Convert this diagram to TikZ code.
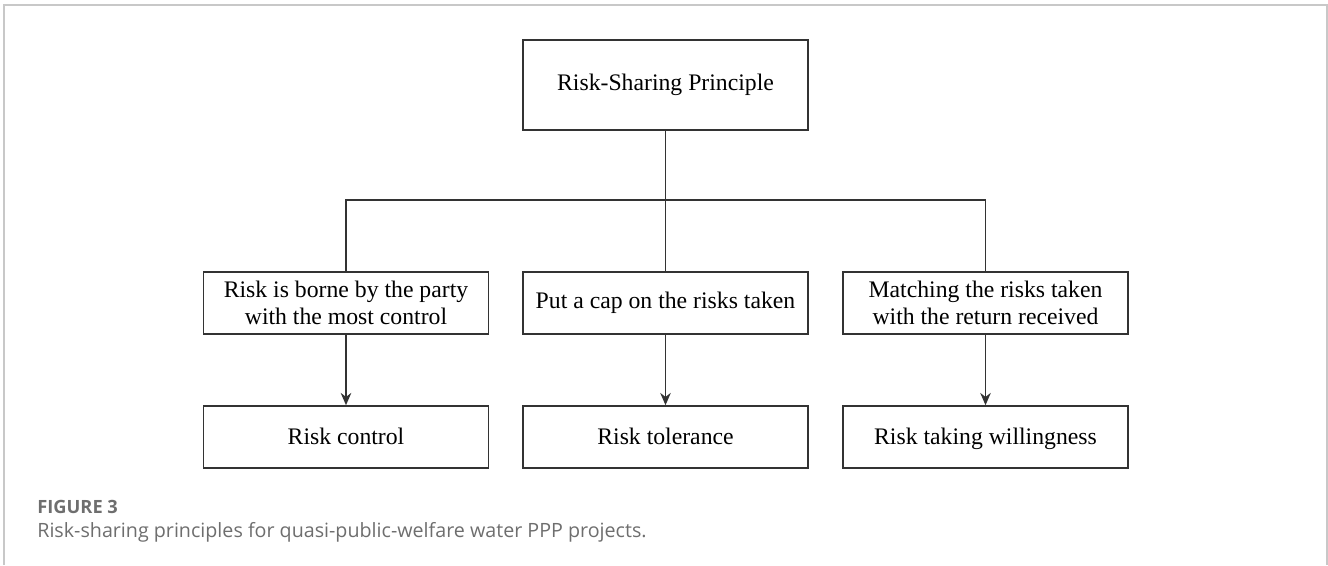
\documentclass[tikz,border=0pt]{standalone}
\usepackage{fontspec}
\setmainfont{Liberation Serif}
\newfontfamily\capfont{Open Sans}
\usepackage{xcolor}
\usetikzlibrary{arrows.meta}

\definecolor{framegray}{HTML}{C8C8C8}
\definecolor{capgray}{HTML}{6E6E6E}

\tikzset{
    box/.style={draw=black!80, line width=0.9pt, inner sep=0pt, minimum width=5.7cm,
        minimum height=1.24cm, align=center, font=\fontsize{13.5}{15.3}\selectfont},
    leaf/.style={box, text height=9.5pt, text depth=1.5pt},
    link/.style={draw=black!80, line width=0.9pt},
    arr/.style={link, -{Stealth[length=7pt, width=6pt]}}
}

\begin{document}
\begin{tikzpicture}[x=0.02cm, y=-0.02cm]

    % Page and frame
    \useasboundingbox (0,0) rectangle (1328,565);
    \draw[framegray, line width=1pt] (4,565) -- (4,5) -- (1327,5) -- (1327,565);

    % Boxes
    \node[box, minimum height=1.8cm] (top) at (665.5,85) {Risk-Sharing Principle};

    \node[box] (borne) at (346,303) {Risk is borne by the party\\with the most control};
    \node[box] (cap) at (665.5,303) {Put a cap on the risks taken};
    \node[box] (match) at (985.5,303) {Matching the risks taken\\with the return received};

    \node[leaf] (control) at (346,437) {Risk control};
    \node[leaf] (tolerance) at (665.5,437) {Risk tolerance};
    \node[leaf] (willing) at (985.5,437) {Risk taking willingness};

    % Tree lines
    \coordinate (split) at (665.5,200);
    \draw[link] (top.south) -- (split);
    \draw[link] (borne.north) -- (borne.north |- split) -- (match.north |- split) -- (match.north);
    \draw[link] (split) -- (cap.north);

    \draw[arr] (borne.south) -- (control.north);
    \draw[arr] (cap.south) -- (tolerance.north);
    \draw[arr] (match.south) -- (willing.north);

    % Caption
    \node[anchor=base west, inner sep=0pt, text=capgray, font=\capfont\fontsize{10.4}{12}\selectfont\bfseries] (fig) at (37,513) {FIGURE 3};
    \node[anchor=base west, inner sep=0pt, text=capgray, font=\capfont\fontsize{11.2}{13}\selectfont] (caption) at (37,537) {Risk-sharing principles for quasi-public-welfare water PPP projects.};

\end{tikzpicture}
\end{document}
